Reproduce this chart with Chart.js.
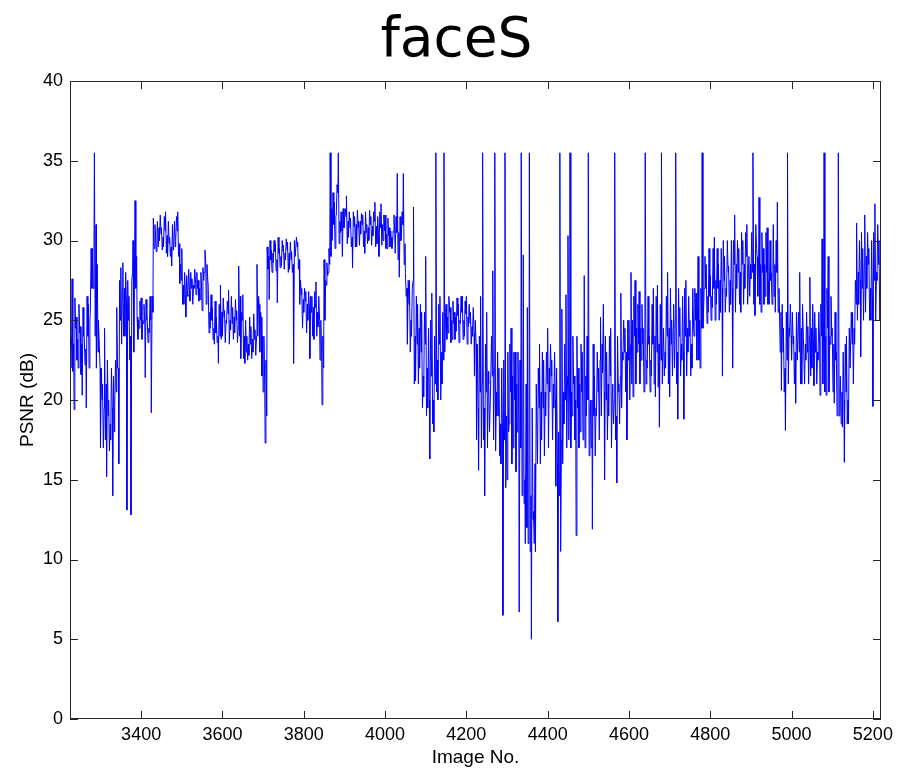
<!DOCTYPE html>
<html>
<head>
<meta charset="utf-8">
<script src="https://cdn.jsdelivr.net/npm/chart.js@4.4.0/dist/chart.umd.min.js"></script>
<style>
  html, body { margin: 0; padding: 0; background: #fff; }
  #wrap { width: 912px; height: 769px; }
</style>
</head>
<body>
<div id="wrap"><canvas id="chart" width="912" height="769"></canvas></div>
<script>
'use strict';
// faceS — PSNR per image
// psnrPeak  : images 3225, 3230, ... (pics / creux)
// psnrSwing : images 3227, 3232, ... (bord opposé de la bande)
// psnrCore  : images 3229, 3234, ... (cœur de la bande)

const firstImage = 3225;
const imageStep = 5;
const swingOffset = 2;
const coreOffset = 4;
const psnrPeak = [
  24.0, 27.6, 19.4, 25.2, 22.0, 24.6, 20.3, 24.0, 19.5, 26.0,
  25.5, 29.5, 35.5, 22.0, 25.0, 17.0, 21.0, 24.5, 15.2, 20.0,
  17.5, 14.0, 19.5, 25.8, 16.0, 28.3, 28.6, 24.0, 13.1, 26.5,
  12.8, 30.0, 32.5, 25.2, 24.5, 26.4, 24.8, 21.4, 25.0, 24.2,
  19.2, 31.4, 30.6, 31.2, 30.0, 30.8, 29.6, 31.8, 29.0, 30.2,
  28.4, 29.5, 30.0, 31.8, 27.3, 29.5, 26.0, 25.2, 26.5, 26.2,
  27.6, 27.0, 26.6, 27.5, 26.3, 25.6, 28.0, 26.0, 27.2, 24.5,
  25.8, 23.5, 25.2, 22.3, 27.2, 24.0, 25.6, 24.8, 26.9, 24.4,
  25.8, 24.2, 25.6, 28.4, 22.6, 26.6, 22.3, 24.0, 22.8, 24.6,
  23.0, 24.4, 28.5, 26.0, 25.2, 20.5, 17.3, 29.6, 26.3, 29.4,
  28.6, 29.8, 26.1, 29.5, 28.4, 29.7, 28.8, 29.9, 28.2, 29.3,
  22.3, 29.0, 29.9, 26.0, 27.0, 25.5, 26.8, 25.0, 22.6, 26.5,
  23.8, 27.4, 24.6, 22.5, 19.7, 28.8, 27.2, 28.0, 35.5, 30.0,
  32.4, 31.6, 35.5, 30.5, 29.0, 31.0, 32.8, 30.2, 31.4, 28.3,
  31.5, 29.6, 31.2, 30.4, 31.6, 29.2, 31.0, 30.0, 31.5, 30.3,
  32.4, 29.8, 29.0, 32.3, 30.0, 31.6, 29.5, 30.8, 30.2, 30.6,
  29.2, 34.2, 27.7, 30.2, 34.2, 28.0, 23.5, 27.5, 24.0, 32.1,
  21.2, 26.0, 22.0, 25.5, 20.2, 29.0, 19.5, 16.3, 26.7, 18.0,
  35.5, 20.0, 26.5, 21.0, 35.5, 26.0, 24.2, 25.8, 23.8, 25.5,
  24.3, 26.0, 24.8, 26.5, 24.0, 26.5, 24.6, 25.5, 24.0, 21.5,
  17.5, 15.6, 26.5, 35.5, 14.0, 25.5, 21.0, 20.0, 28.1, 35.5,
  19.0, 22.0, 16.0, 6.5, 35.5, 15.0, 18.5, 24.5, 17.0, 23.0,
  18.0, 6.7, 35.5, 29.1, 11.0, 25.8, 35.5, 5.0, 13.0, 10.5,
  16.0, 23.5, 17.5, 22.5, 19.0, 24.5, 20.5, 22.5, 19.5, 14.6,
  6.1, 35.5, 25.7, 18.5, 26.6, 30.3, 35.5, 19.0, 21.5, 11.5,
  22.0, 18.0, 23.0, 27.8, 19.0, 35.5, 20.0, 11.9, 21.5, 19.0,
  22.0, 25.2, 21.7, 15.0, 23.0, 19.0, 24.5, 21.0, 35.5, 14.8,
  21.0, 26.7, 22.5, 24.5, 17.5, 25.0, 28.0, 20.2, 27.5, 23.0,
  26.8, 22.5, 24.5, 35.5, 22.0, 24.0, 21.5, 27.0, 20.2, 27.2,
  18.3, 35.5, 24.5, 22.0, 28.0, 20.2, 25.0, 26.0, 35.5, 18.8,
  25.8, 22.5, 18.8, 27.5, 23.0, 25.0, 22.0, 24.0, 26.7, 29.0,
  22.0, 35.5, 27.0, 28.5, 25.5, 27.8, 25.8, 30.2, 26.0, 28.5,
  25.5, 21.5, 29.0, 26.5, 28.4, 26.0, 22.0, 31.6, 27.0, 29.5,
  25.5, 30.0, 27.0, 31.0, 29.0, 27.6, 35.5, 25.3, 29.0, 32.7,
  25.5, 29.5, 26.5, 30.8, 26.0, 28.0, 31.0, 25.5, 32.4, 26.0,
  20.6, 24.5, 18.1, 35.5, 24.0, 22.5, 24.0, 19.8, 22.5, 28.0,
  21.0, 24.0, 22.5, 24.6, 27.7, 22.0, 20.9, 24.5, 22.5, 20.3,
  30.1, 35.5, 20.3, 29.0, 23.5, 24.5, 19.8, 23.0, 35.5, 21.5,
  18.3, 16.1, 24.0, 18.5, 22.0, 25.5, 23.5, 31.1, 26.0, 22.7,
  29.5, 31.6, 27.0, 29.5, 25.0, 19.6, 32.3, 27.5, 30.0, 24.0,
];
const psnrSwing = [
  22.0, 21.8, 26.4, 22.5, 26.0, 21.6, 25.8, 22.2, 26.5, 22.0,
  29.5, 27.0, 24.0, 28.5, 23.5, 22.0, 17.0, 17.5, 22.5, 16.8,
  22.0, 21.5, 22.5, 22.0, 27.5, 23.5, 24.0, 28.0, 27.5, 22.5,
  27.5, 23.0, 27.0, 23.8, 26.2, 23.8, 26.0, 26.3, 23.6, 26.5,
  26.5, 29.5, 29.3, 29.6, 31.6, 29.4, 31.5, 29.2, 31.2, 29.0,
  31.0, 31.2, 31.5, 29.0, 28.5, 26.0, 28.0, 27.8, 28.2, 28.0,
  26.0, 28.2, 28.0, 26.2, 28.0, 28.3, 29.4, 28.5, 24.2, 26.6,
  23.8, 26.2, 23.6, 26.0, 23.8, 26.4, 23.6, 26.2, 23.5, 26.5,
  23.8, 26.3, 23.6, 24.0, 25.5, 22.6, 25.0, 22.5, 25.2, 22.6,
  25.4, 22.8, 24.0, 23.0, 21.5, 24.0, 22.5, 28.2, 30.0, 28.0,
  30.0, 28.1, 30.2, 28.3, 30.0, 28.2, 30.1, 28.0, 29.9, 28.0,
  30.0, 30.2, 28.2, 27.5, 24.5, 27.0, 24.2, 26.8, 26.5, 24.0,
  26.8, 24.0, 26.5, 25.0, 24.0, 25.0, 28.6, 29.5, 29.0, 33.0,
  29.5, 33.5, 29.8, 31.8, 32.0, 32.0, 29.8, 31.8, 29.6, 31.8,
  29.6, 31.9, 29.7, 31.7, 29.6, 31.8, 29.8, 31.9, 29.7, 31.8,
  29.6, 31.5, 31.8, 29.7, 31.6, 29.5, 31.4, 29.6, 29.5, 31.6,
  31.5, 28.8, 31.5, 31.8, 28.5, 26.5, 27.5, 23.0, 27.0, 21.0,
  26.5, 21.0, 26.0, 19.5, 25.5, 19.0, 24.5, 25.0, 18.5, 24.0,
  20.5, 26.0, 20.0, 25.5, 23.0, 23.8, 26.5, 23.6, 26.2, 23.8,
  26.4, 23.6, 26.5, 23.8, 26.2, 23.5, 26.0, 23.5, 25.8, 25.0,
  23.5, 24.0, 17.0, 17.5, 23.5, 17.0, 18.0, 24.0, 17.5, 16.8,
  23.0, 16.5, 22.0, 22.5, 14.5, 23.0, 23.5, 16.0, 23.0, 15.5,
  23.0, 22.5, 14.0, 13.5, 21.0, 11.0, 10.5, 19.5, 11.0, 21.0,
  22.0, 16.0, 23.0, 16.5, 23.0, 17.0, 23.5, 17.5, 23.0, 22.0,
  18.0, 10.5, 16.0, 23.5, 17.0, 17.5, 17.0, 24.0, 17.5, 24.0,
  17.0, 23.5, 17.5, 17.0, 24.0, 16.5, 17.0, 23.5, 16.5, 23.0,
  17.5, 19.0, 26.0, 24.0, 17.5, 24.0, 17.0, 18.5, 17.5, 24.0,
  18.5, 19.5, 25.0, 20.5, 25.0, 20.0, 21.0, 26.5, 21.0, 26.0,
  21.0, 26.0, 20.5, 21.0, 26.5, 20.5, 26.0, 21.0, 26.5, 20.8,
  26.0, 21.0, 21.5, 26.5, 21.0, 27.0, 21.5, 22.0, 21.0, 27.0,
  21.5, 26.5, 27.0, 21.5, 26.5, 21.5, 27.0, 27.0, 22.5, 22.5,
  27.0, 24.5, 29.0, 24.8, 29.5, 25.0, 29.5, 25.0, 29.5, 25.0,
  29.5, 30.0, 25.5, 30.0, 25.5, 30.0, 30.0, 25.5, 30.0, 26.0,
  30.5, 26.0, 30.5, 26.0, 26.5, 30.5, 26.0, 31.0, 26.5, 26.0,
  30.5, 26.0, 30.5, 26.0, 30.0, 26.0, 26.5, 30.0, 25.5, 23.0,
  26.0, 20.5, 25.5, 21.0, 26.0, 25.5, 21.0, 25.5, 25.5, 21.0,
  26.0, 21.0, 25.5, 21.0, 21.5, 26.0, 25.5, 21.0, 25.5, 26.0,
  21.0, 20.5, 27.0, 20.5, 26.5, 20.5, 25.5, 19.0, 19.0, 18.5,
  23.0, 23.5, 18.5, 24.5, 25.5, 21.0, 27.5, 25.0, 30.0, 30.5,
  25.0, 25.5, 30.5, 25.0, 30.0, 30.5, 25.0, 31.0, 25.0,
];
const psnrCore = [
  24.0, 23.5, 24.5, 23.8, 24.2, 23.5, 24.0, 23.2, 24.0, 25.0,
  27.0, 30.0, 31.0, 23.0, 22.0, 20.0, 19.5, 21.0, 19.0, 18.5,
  19.5, 18.0, 20.5, 22.0, 25.0, 27.0, 27.0, 26.0, 25.0, 24.0,
  28.0, 29.0, 29.0, 25.0, 25.0, 25.0, 24.8, 25.0, 24.5, 25.0,
  25.5, 31.0, 30.5, 30.8, 30.4, 30.2, 30.6, 30.3, 29.8, 29.6,
  29.4, 29.6, 30.6, 29.8, 27.5, 27.2, 26.6, 26.6, 26.8, 27.0,
  27.2, 27.3, 27.0, 27.0, 26.8, 27.5, 28.6, 27.5, 25.5, 25.0,
  24.5, 24.2, 24.0, 24.0, 25.5, 25.2, 25.0, 25.4, 25.0, 24.8,
  25.2, 25.0, 24.6, 26.5, 25.0, 24.0, 23.0, 23.5, 23.5, 23.8,
  23.8, 24.0, 26.5, 25.5, 24.0, 21.0, 19.0, 29.0, 28.8, 29.2,
  29.3, 28.8, 29.2, 29.0, 29.3, 29.2, 29.4, 29.2, 28.8, 28.5,
  29.0, 29.6, 28.8, 26.6, 26.3, 26.2, 26.0, 25.8, 25.5, 25.8,
  25.8, 25.5, 25.0, 23.0, 22.0, 27.5, 27.8, 28.5, 32.0, 31.0,
  31.5, 33.0, 31.2, 30.6, 30.8, 31.5, 31.2, 30.8, 30.2, 30.9,
  31.0, 30.8, 31.2, 31.0, 30.6, 30.5, 30.8, 31.0, 30.9, 31.2,
  30.9, 30.3, 30.8, 31.0, 30.6, 30.4, 30.3, 30.6, 30.0, 30.4,
  30.5, 30.5, 30.0, 31.0, 29.8, 27.0, 26.0, 25.0, 27.5, 24.0,
  23.5, 24.5, 23.0, 21.5, 23.5, 22.0, 20.0, 21.5, 20.0, 21.0,
  22.5, 23.5, 23.0, 22.5, 25.5, 25.2, 25.5, 25.0, 24.8, 25.2,
  25.3, 25.0, 25.5, 25.0, 25.4, 25.2, 24.8, 24.6, 24.2, 23.5,
  19.5, 20.5, 21.0, 19.5, 20.5, 21.8, 20.0, 21.5, 22.0, 20.5,
  19.0, 18.5, 18.0, 17.5, 19.0, 18.0, 20.5, 21.5, 20.0, 21.0,
  19.0, 17.0, 18.5, 15.0, 12.0, 16.5, 14.0, 12.5, 16.0, 17.5,
  19.5, 20.5, 19.5, 20.5, 21.0, 22.0, 21.5, 21.0, 20.0, 16.0,
  14.0, 17.5, 20.5, 20.0, 21.5, 21.0, 20.5, 21.0, 20.0, 19.5,
  21.0, 20.5, 20.0, 21.5, 20.0, 19.5, 20.0, 19.0, 19.5, 20.5,
  22.5, 23.5, 20.5, 20.0, 21.0, 21.5, 20.5, 20.0, 19.0, 20.5,
  21.5, 23.0, 23.0, 23.0, 22.5, 23.5, 25.0, 24.0, 24.5, 23.5,
  24.5, 23.5, 23.0, 22.5, 23.5, 22.5, 23.5, 24.0, 23.0, 23.5,
  22.5, 23.5, 23.0, 24.0, 24.5, 23.5, 24.5, 25.0, 23.0, 24.0,
  23.5, 23.0, 24.0, 24.5, 24.0, 23.5, 24.5, 25.0, 26.0, 25.0,
  24.5, 26.0, 27.0, 26.5, 26.5, 26.5, 27.0, 27.5, 27.0, 27.5,
  27.0, 27.5, 27.0, 28.0, 27.5, 27.0, 28.5, 28.5, 28.0, 28.0,
  28.5, 28.5, 29.0, 28.5, 28.5, 28.0, 28.5, 29.5, 29.0, 28.5,
  28.0, 28.5, 28.0, 27.5, 27.5, 28.0, 28.5, 28.0, 27.0, 25.5,
  23.0, 22.0, 22.5, 24.5, 24.0, 23.5, 23.0, 22.5, 23.0, 24.5,
  24.0, 23.5, 23.0, 24.0, 24.5, 23.5, 23.0, 23.0, 23.5, 24.0,
  25.0, 24.0, 24.5, 24.0, 24.0, 23.5, 22.5, 21.0, 20.5, 20.5,
  20.0, 20.5, 20.0, 22.0, 23.5, 24.5, 26.0, 28.0, 27.5, 27.0,
  28.5, 29.0, 28.5, 27.0, 26.5, 27.5, 28.0, 28.5, 27.5,
];
const xTicks = [3400, 3600, 3800, 4000, 4200, 4400, 4600, 4800, 5000, 5200];
const yTicks = [0, 5, 10, 15, 20, 25, 30, 35, 40];

// fusion des trois séries par numéro d'image
const points = [];
psnrPeak.forEach((v, i) => {
  const img = firstImage + i * imageStep;
  points.push({ x: img, y: v });
  if (i < psnrSwing.length) points.push({ x: img + swingOffset, y: psnrSwing[i] });
  if (i < psnrCore.length) points.push({ x: img + coreOffset, y: psnrCore[i] });
});

// ── boîte MATLAB : cadre + graduations vers l'intérieur ────────────────────
const matlabBox = {
  id: 'matlabBox',
  afterDatasetsDraw(chart) {
    const { ctx, chartArea: a, scales: { x, y } } = chart;
    const len = 8;
    ctx.save();
    ctx.strokeStyle = '#262626';
    ctx.lineWidth = 1;
    ctx.strokeRect(Math.round(a.left) + 0.5, Math.round(a.top) + 0.5,
      Math.round(a.right - a.left) - 1, Math.round(a.bottom - a.top) - 1);
    ctx.beginPath();
    xTicks.forEach(v => {
      const px = Math.round(x.getPixelForValue(v)) + 0.5;
      ctx.moveTo(px, a.bottom); ctx.lineTo(px, a.bottom - len);
      ctx.moveTo(px, a.top);    ctx.lineTo(px, a.top + len);
    });
    yTicks.forEach(v => {
      const py = Math.round(y.getPixelForValue(v)) + 0.5;
      ctx.moveTo(a.left, py);  ctx.lineTo(a.left + len, py);
      ctx.moveTo(a.right, py); ctx.lineTo(a.right - len, py);
    });
    ctx.stroke();
    ctx.restore();
  },
};

const tickFont = { family: 'Liberation Sans, Arial, sans-serif', size: 18 };
const labelFont = { family: 'Liberation Sans, Arial, sans-serif', size: 19 };

new Chart(document.getElementById('chart'), {
  type: 'line',
  data: {
    datasets: [{
      label: 'PSNR',
      data: points,
      borderColor: '#0000ff',
      borderWidth: 1,
      pointRadius: 0,
      tension: 0,
      fill: false,
    }],
  },
  options: {
    responsive: false,
    animation: false,
    events: [],
    layout: { padding: { left: 16, right: 15, top: 0, bottom: 0 } },
    plugins: {
      legend: { display: false },
      tooltip: { enabled: false },
      title: {
        display: true,
        text: 'faceS',
        color: '#000',
        font: { family: 'DejaVu Sans, sans-serif', size: 55, weight: 'normal' },
        padding: { top: 9, bottom: 6 },
      },
    },
    scales: {
      x: {
        type: 'linear',
        min: firstImage,
        max: firstImage + (psnrPeak.length - 1) * imageStep,
        afterBuildTicks: s => { s.ticks = xTicks.map(v => ({ value: v })); },
        afterFit: s => { s.height = 50; },
        grid: { display: false, drawTicks: false },
        border: { display: false },
        ticks: { color: '#000', font: tickFont, padding: 5, maxRotation: 0, autoSkip: false, callback: v => String(v) },
        title: { display: true, text: 'Image No.', color: '#000', font: labelFont, padding: 0 },
      },
      y: {
        min: 0,
        max: 40,
        afterBuildTicks: s => { s.ticks = yTicks.map(v => ({ value: v })); },
        afterFit: s => { s.width = 54; },
        grid: { display: false, drawTicks: false },
        border: { display: false },
        ticks: { color: '#000', font: tickFont, padding: 7, callback: v => String(v) },
        title: { display: true, text: 'PSNR (dB)', color: '#000', font: labelFont, padding: 0 },
      },
      yRight: {
        position: 'right',
        min: 0,
        max: 40,
        afterFit: s => { s.width = 16; },
        grid: { display: false, drawTicks: false },
        border: { display: false },
        ticks: { display: false },
      },
    },
  },
  plugins: [matlabBox],
});
</script>
</body>
</html>
